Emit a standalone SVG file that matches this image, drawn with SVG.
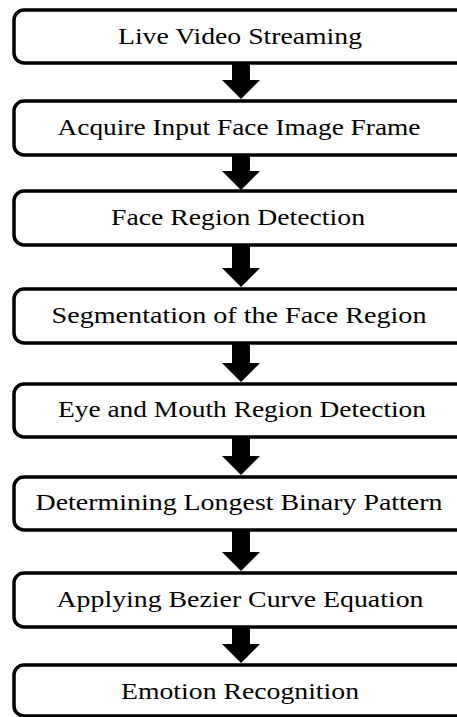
<svg xmlns="http://www.w3.org/2000/svg" width="457" height="717" viewBox="0 0 457 717">
  <style>
    .box { fill: #ffffff; stroke: #000000; stroke-width: 3.5; }
    .label { font-family: "Liberation Serif", "Times New Roman", serif; font-size: 24px; fill: #000000; text-anchor: middle; }
    .arrow { fill: #000000; stroke: none; }
  </style>
  <rect x="0" y="0" width="457" height="717" fill="#ffffff"/>

  <!-- connectors: block arrows between stages -->
  <g id="connectors">
    <path class="arrow" d="M232,62 H250 V80 H260 L241,99 L222,80 H232 Z"/>
    <path class="arrow" d="M232,154 H250 V171 H260 L241,190 L222,171 H232 Z"/>
    <path class="arrow" d="M232,244 H250 V268 H260 L241,287 L222,268 H232 Z"/>
    <path class="arrow" d="M232,342 H250 V363 H260 L241,382 L222,363 H232 Z"/>
    <path class="arrow" d="M232,436 H250 V456 H260 L241,475 L222,456 H232 Z"/>
    <path class="arrow" d="M232,529 H250 V552 H260 L241,571 L222,552 H232 Z"/>
    <path class="arrow" d="M232,626 H250 V644 H260 L241,663 L222,644 H232 Z"/>
  </g>

  <g id="live-video-streaming">
    <rect class="box" x="14" y="10" width="460" height="53" rx="10"/>
    <text class="label" x="240" y="44" textLength="244" lengthAdjust="spacingAndGlyphs">Live Video Streaming</text>
  </g>
  <g id="acquire-frame">
    <rect class="box" x="14" y="101" width="460" height="54" rx="10"/>
    <text class="label" x="239" y="135" textLength="363" lengthAdjust="spacingAndGlyphs">Acquire Input Face Image Frame</text>
  </g>
  <g id="face-region-detection">
    <rect class="box" x="14" y="191" width="460" height="54" rx="10"/>
    <text class="label" x="238" y="225" textLength="254" lengthAdjust="spacingAndGlyphs">Face Region Detection</text>
  </g>
  <g id="face-segmentation">
    <rect class="box" x="14" y="289" width="460" height="54" rx="10"/>
    <text class="label" x="239" y="323" textLength="375" lengthAdjust="spacingAndGlyphs">Segmentation of the Face Region</text>
  </g>
  <g id="eye-mouth-detection">
    <rect class="box" x="14" y="384" width="460" height="53" rx="10"/>
    <text class="label" x="242" y="417" textLength="368" lengthAdjust="spacingAndGlyphs">Eye and Mouth Region Detection</text>
  </g>
  <g id="longest-binary-pattern">
    <rect class="box" x="14" y="477" width="460" height="53" rx="10"/>
    <text class="label" x="239" y="510" textLength="407" lengthAdjust="spacingAndGlyphs">Determining Longest Binary Pattern</text>
  </g>
  <g id="bezier-curve">
    <rect class="box" x="14" y="573" width="460" height="54" rx="10"/>
    <text class="label" x="240" y="607" textLength="367" lengthAdjust="spacingAndGlyphs">Applying Bezier Curve Equation</text>
  </g>
  <g id="emotion-recognition">
    <rect class="box" x="14" y="665" width="460" height="51" rx="10"/>
    <text class="label" x="240" y="699" textLength="238" lengthAdjust="spacingAndGlyphs">Emotion Recognition</text>
  </g>
</svg>
